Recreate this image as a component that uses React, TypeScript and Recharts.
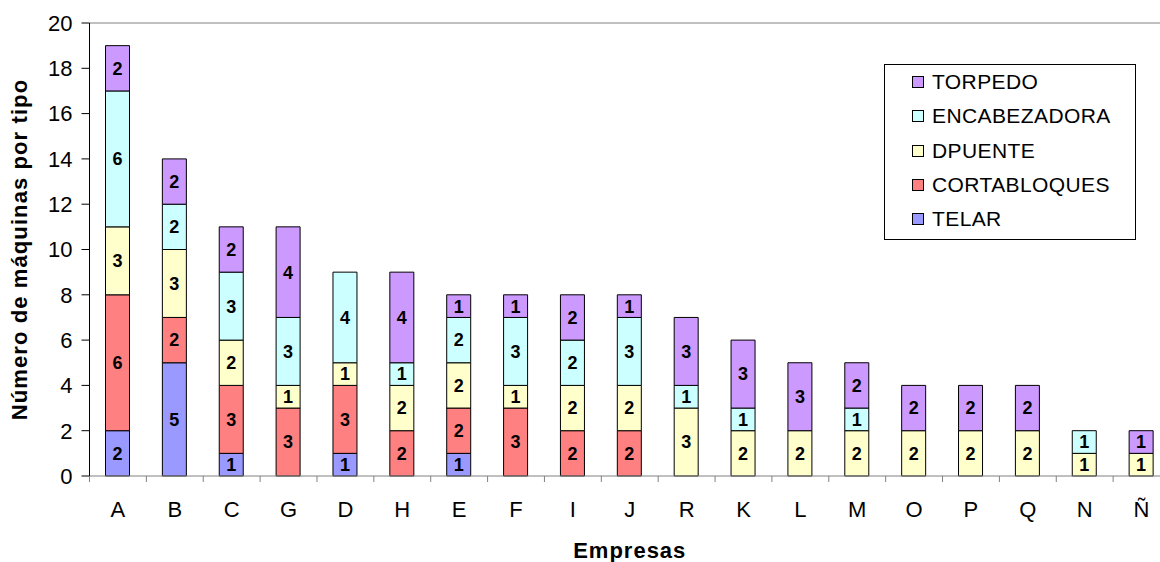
import React from "react";
import { BarChart, Bar, XAxis, YAxis, LabelList, Legend, ReferenceLine, Label } from "recharts";

const categories = ["A", "B", "C", "G", "D", "H", "E", "F", "I", "J", "R", "K", "L", "M", "O", "P", "Q", "N", "Ñ"];
const telar = [2, 5, 1, 0, 1, 0, 1, 0, 0, 0, 0, 0, 0, 0, 0, 0, 0, 0, 0];
const cortabloques = [6, 2, 3, 3, 3, 2, 2, 3, 2, 2, 0, 0, 0, 0, 0, 0, 0, 0, 0];
const dpuente = [3, 3, 2, 1, 1, 2, 2, 1, 2, 2, 3, 2, 2, 2, 2, 2, 2, 1, 1];
const encabezadora = [6, 2, 3, 3, 4, 1, 2, 3, 2, 3, 1, 1, 0, 1, 0, 0, 0, 1, 0];
const torpedo = [2, 2, 2, 4, 0, 4, 1, 1, 2, 1, 3, 3, 3, 2, 2, 2, 2, 0, 1];
const yTicks = [0, 2, 4, 6, 8, 10, 12, 14, 16, 18, 20];

const series = [
  { key: "TELAR", color: "#9999FF" },
  { key: "CORTABLOQUES", color: "#FF8080" },
  { key: "DPUENTE", color: "#FFFFCC" },
  { key: "ENCABEZADORA", color: "#CCFFFF" },
  { key: "TORPEDO", color: "#CC99FF" },
];
const seriesOrder = series.map((s) => s.key);

const data = categories.map((name, i) => ({
  name,
  TELAR: telar[i],
  CORTABLOQUES: cortabloques[i],
  DPUENTE: dpuente[i],
  ENCABEZADORA: encabezadora[i],
  TORPEDO: torpedo[i],
}));

const FONT = "Arial, 'Liberation Sans', sans-serif";
const CHART_W = 1170;
const AXIS_W = 89.5;
const BAND = (CHART_W - AXIS_W) / categories.length;

const XTick = (props: any) => {
  const { x, y, payload } = props;
  const left = x - BAND / 2;
  return (
    <g>
      <line x1={left} y1={y} x2={left} y2={y + 6} stroke="#808080" strokeWidth={1} />
      <text x={x} y={y + 41} textAnchor="middle" fontFamily={FONT} fontSize={22} fill="#000">
        {payload.value}
      </text>
    </g>
  );
};

const LegendBox = (props: any) => {
  const items = [...(props.payload || [])].sort(
    (a: any, b: any) => seriesOrder.indexOf(b.value) - seriesOrder.indexOf(a.value)
  );
  return (
    <div
      style={{
        width: 252,
        height: 176,
        boxSizing: "border-box",
        border: "1px solid #000",
        background: "#fff",
        position: "relative",
        fontFamily: FONT,
        fontSize: 21,
        letterSpacing: 0.4,
      }}
    >
      {items.map((it: any, i: number) => (
        <div
          key={it.value}
          style={{
            position: "absolute",
            left: 27,
            top: 17 + i * 34.3 - 12,
            height: 24,
            display: "flex",
            alignItems: "center",
            whiteSpace: "nowrap",
          }}
        >
          <span
            style={{
              display: "inline-block",
              width: 10,
              height: 10,
              background: it.color,
              border: "1px solid #000",
              marginRight: 8,
            }}
          />
          <span>{it.value}</span>
        </div>
      ))}
    </div>
  );
};

export default function App() {
  return (
    <div style={{ position: "absolute", left: 0, top: 0, width: 1160, height: 562, overflow: "hidden", background: "#fff" }}>
      <BarChart width={CHART_W} height={562} data={data} margin={{ top: 23, right: 0, bottom: 0, left: 0 }} barSize={24}>
        <XAxis
          dataKey="name"
          height={86}
          interval={0}
          tickSize={0}
          tickMargin={0}
          tickLine={false}
          tick={<XTick />}
          axisLine={{ stroke: "#808080" }}
        >
          <Label
            value="Empresas"
            position="insideBottom"
            offset={4}
            style={{ fontFamily: FONT, fontSize: 22, fontWeight: "bold", fill: "#000", letterSpacing: 1 }}
          />
        </XAxis>
        <YAxis
          width={AXIS_W}
          domain={[0, 20]}
          ticks={yTicks}
          interval={0}
          tickSize={8}
          tickMargin={9}
          axisLine={{ stroke: "#000" }}
          tickLine={{ stroke: "#000" }}
          tick={{ fontFamily: FONT, fontSize: 22, fill: "#000" }}
        >
          <Label
            value="Número de máquinas por tipo"
            angle={-90}
            position="insideLeft"
            offset={19}
            textAnchor="middle"
            style={{ fontFamily: FONT, fontSize: 22, fontWeight: "bold", fill: "#000", textAnchor: "middle", letterSpacing: 1.1 }}
          />
        </YAxis>
        <ReferenceLine y={20} stroke="#808080" strokeWidth={1} />
        {series.map((s) => (
          <Bar key={s.key} dataKey={s.key} stackId="a" fill={s.color} stroke="#000" strokeWidth={1} isAnimationActive={false}>
            <LabelList
              dataKey={s.key}
              position="center"
              formatter={(v: any) => (v ? v : "")}
              style={{ fontFamily: FONT, fontSize: 18, fontWeight: "bold", fill: "#000" }}
            />
          </Bar>
        ))}
        <Legend
          layout="horizontal"
          verticalAlign="middle"
          align="center"
          content={<LegendBox />}
          wrapperStyle={{ position: "absolute", left: 884, top: 64, width: 252, height: 176 }}
        />
      </BarChart>
    </div>
  );
}
